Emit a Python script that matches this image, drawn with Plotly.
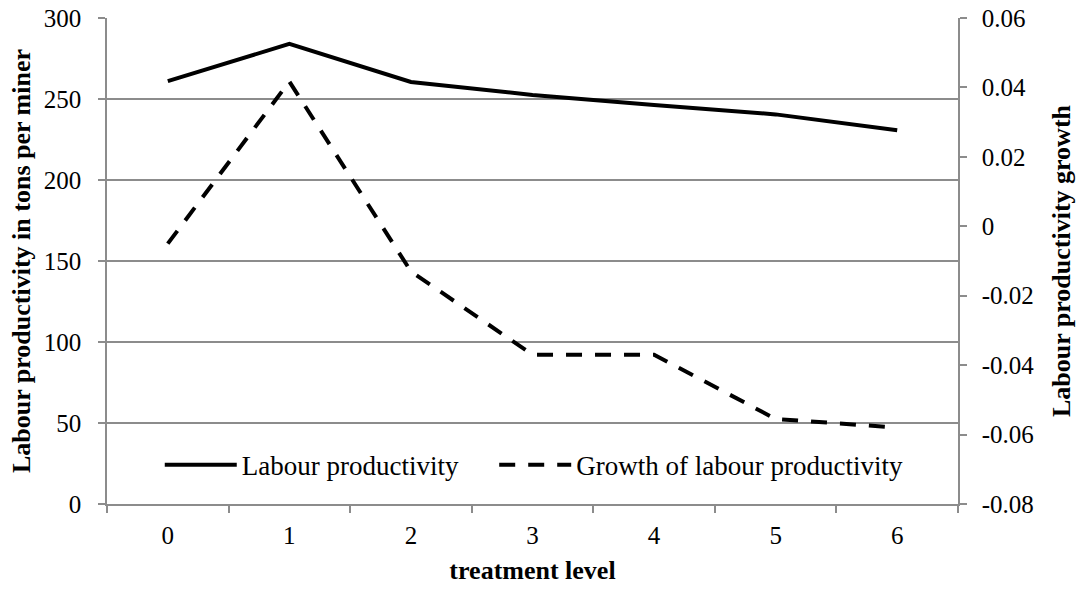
import plotly.graph_objects as go

levels = ["0", "1", "2", "3", "4", "5", "6"]
productivity = [261, 284, 260.5, 252.5, 246.3, 240.5, 230.7]
growth = [-0.005, 0.0417, -0.013, -0.037, -0.037, -0.0555, -0.058]

left_ticks = [0, 50, 100, 150, 200, 250, 300]
right_ticks = [-0.08, -0.06, -0.04, -0.02, 0, 0.02, 0.04, 0.06]
right_labels = ["-0.08", "-0.06", "-0.04", "-0.02", "0", "0.02", "0.04", "0.06"]

font = "Liberation Serif, Times New Roman, serif"
grey = "#8c8c8c"
fs = 26
tfs = 25

fig = go.Figure()
fig.add_trace(go.Scatter(x=levels, y=productivity, mode="lines", name="Labour productivity",
                         line=dict(color="black", width=4), legend="legend"))
fig.add_trace(go.Scatter(x=levels, y=growth, mode="lines", name="Growth of labour productivity",
                         yaxis="y2", line=dict(color="black", width=4, dash="16px,13px"),
                         legend="legend2"))

fig.update_layout(
    width=1080, height=590,
    margin=dict(l=107, r=122, t=18, b=86),
    paper_bgcolor="white", plot_bgcolor="white",
    font=dict(family=font, size=fs, color="black"),
    showlegend=True,
    legend=dict(x=0.062, y=0.08, xanchor="left", yanchor="middle",
                bgcolor="rgba(0,0,0,0)", font=dict(size=27), itemwidth=72),
    legend2=dict(x=0.455, y=0.08, xanchor="left", yanchor="middle",
                 bgcolor="rgba(0,0,0,0)", font=dict(size=27), itemwidth=72),
    xaxis=dict(type="category", range=[-0.5, 6.5], showline=True, linecolor=grey,
               linewidth=1.5, ticks="outside", tickson="boundaries", ticklen=7,
               tickcolor=grey, tickwidth=1.5, showgrid=False, ticklabelstandoff=8,
               automargin=False, tickfont=dict(size=tfs),
               title=dict(text="<b>treatment level</b>", standoff=13, font=dict(size=fs))),
    yaxis=dict(range=[0, 300], tickvals=left_ticks, showline=True, linecolor=grey,
               linewidth=1.5, ticks="outside", ticklen=7, tickcolor=grey, tickwidth=1.5,
               showgrid=True, gridcolor=grey, gridwidth=1.5, zeroline=False,
               ticklabelstandoff=12, ticklabeloverflow="allow", automargin=False,
               tickfont=dict(size=tfs),
               title=dict(text="<b>Labour productivity in tons per miner</b>", standoff=6,
                          font=dict(size=fs))),
    yaxis2=dict(range=[-0.08, 0.06], overlaying="y", side="right", tickvals=right_ticks,
                ticktext=right_labels, showline=True, linecolor=grey, linewidth=1.5,
                ticks="outside", ticklen=7, tickcolor=grey, tickwidth=1.5,
                showgrid=False, zeroline=False, ticklabelstandoff=10,
                ticklabeloverflow="allow", automargin=False, tickfont=dict(size=tfs),
                title=dict(text="<b>Labour productivity growth</b>", standoff=18,
                           font=dict(size=fs))),
)

# drop the default 8px body margin so the figure fills the window exactly
fig.write_html("out.html", config={"displayModeBar": False},
               post_script="document.body.style.margin='0';")
